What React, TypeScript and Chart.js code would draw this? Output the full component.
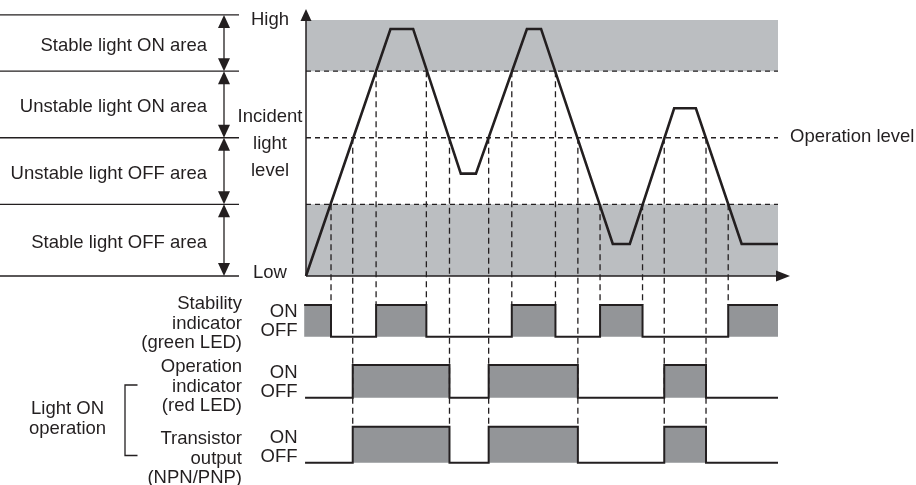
import React, { useEffect, useRef } from "react";
import { Chart, registerables } from "chart.js";

Chart.register(...registerables);

// ---- data ----
const waveTime = [0, 17.9, 22.7, 32.8, 36.0, 46.8, 49.8, 65.0, 68.6, 78.0, 82.6, 92.3, 100];
const waveLevel = [0, 96.5, 96.5, 40, 40, 96.5, 96.5, 12.5, 12.5, 65.5, 65.5, 12.5, 12.5];
const thresholds = [28, 54, 80]; // stable OFF limit, operation level, stable ON limit
const operationLevel = 54;
const bandTop = 100;
const areaEdges = [102, 80, 54, 28, 0];
const areaLabels = [
  "Stable light ON area",
  "Unstable light ON area",
  "Unstable light OFF area",
  "Stable light OFF area",
];
const crossTime = [5.3, 9.9, 14.85, 25.5, 30.4, 38.7, 43.6, 52.85, 57.6, 62.3, 71.3, 75.9, 84.75, 89.45];
const crossLevel = [28, 54, 80, 80, 54, 54, 80, 80, 54, 28, 28, 54, 54, 28];
const stabilityTime = [-0.4, 5.3, 14.85, 25.5, 43.6, 52.85, 62.3, 71.3, 89.45, 100];
const stabilityState = [1, 0, 1, 0, 1, 0, 1, 0, 1, 1];
const operationTime = [-0.2, 9.9, 30.4, 38.7, 57.6, 75.9, 84.75, 100];
const operationState = [0, 1, 0, 1, 0, 1, 0, 0];
const transistorTime = [-0.2, 9.9, 30.4, 38.7, 57.6, 75.9, 84.75, 100];
const transistorState = [0, 1, 0, 1, 0, 1, 0, 0];
const signalLabels = [
  ["Stability", "indicator", "(green LED)"],
  ["Operation", "indicator", "(red LED)"],
  ["Transistor", "output", "(NPN/PNP)"],
];
const groupLabel = ["Light ON", "operation"];
const axisLabelLevel = ["Incident", "light", "level"];

// ---- layout ----
const W = 916;
const H = 485;
const TOP = 20;
const BOTTOM = 470;
const INK = "#231f20";
const FONT = '18.5px "Liberation Sans", Arial, sans-serif';

function range(v1: number, p1: number, v2: number, p2: number) {
  const k = (v2 - v1) / (p1 - p2);
  return { min: v1 - (BOTTOM - p1) * k, max: v1 + (p1 - TOP) * k };
}

const pts = (xs: number[], ys: number[]) => xs.map((x, i) => ({ x, y: ys[i] }));

export default function App() {
  const ref = useRef<HTMLCanvasElement | null>(null);

  useEffect(() => {
    if (!ref.current) return;

    const overlay = {
      id: "overlay",
      afterDatasetsDraw(chart: any) {
        const ctx = chart.ctx as CanvasRenderingContext2D;
        const sx = chart.scales.x;
        const yL = chart.scales.yLevel;
        const yS = chart.scales.yStab;
        const yO = chart.scales.yOp;
        const yT = chart.scales.yTr;
        ctx.save();
        ctx.strokeStyle = INK;
        ctx.fillStyle = INK;

        // vertical dashed guide lines
        ctx.setLineDash([6, 4]);
        ctx.lineWidth = 1.3;
        crossTime.forEach((t, i) => {
          const px = sx.getPixelForValue(t);
          const y1 = yL.getPixelForValue(crossLevel[i]);
          const y2 = crossLevel[i] === operationLevel ? yT.getPixelForValue(1) : yS.getPixelForValue(1);
          ctx.beginPath();
          ctx.moveTo(px, y1);
          ctx.lineTo(px, y2);
          ctx.stroke();
        });
        ctx.setLineDash([]);

        // axes with arrows
        const x0 = sx.getPixelForValue(0);
        const xr = sx.getPixelForValue(100);
        const y0 = yL.getPixelForValue(0);
        const yt = yL.getPixelForValue(bandTop);
        ctx.lineWidth = 1.5;
        ctx.beginPath();
        ctx.moveTo(x0, y0);
        ctx.lineTo(x0, yt - 4);
        ctx.moveTo(x0, y0);
        ctx.lineTo(xr, y0);
        ctx.stroke();
        ctx.beginPath();
        ctx.moveTo(x0, yt - 11);
        ctx.lineTo(x0 - 5.5, yt + 1);
        ctx.lineTo(x0 + 5.5, yt + 1);
        ctx.closePath();
        ctx.fill();
        ctx.beginPath();
        ctx.moveTo(xr + 12, y0);
        ctx.lineTo(xr - 2, y0 - 5.5);
        ctx.lineTo(xr - 2, y0 + 5.5);
        ctx.closePath();
        ctx.fill();

        // left area scale
        ctx.lineWidth = 1.3;
        areaEdges.forEach((e) => {
          const y = yL.getPixelForValue(e);
          ctx.beginPath();
          ctx.moveTo(0, y);
          ctx.lineTo(239, y);
          ctx.stroke();
        });
        const ax = 224;
        for (let i = 0; i < areaEdges.length - 1; i++) {
          const ya = yL.getPixelForValue(areaEdges[i]);
          const yb = yL.getPixelForValue(areaEdges[i + 1]);
          ctx.beginPath();
          ctx.moveTo(ax, ya + 6);
          ctx.lineTo(ax, yb - 6);
          ctx.stroke();
          ctx.beginPath();
          ctx.moveTo(ax, ya);
          ctx.lineTo(ax - 6, ya + 13);
          ctx.lineTo(ax + 6, ya + 13);
          ctx.closePath();
          ctx.fill();
          ctx.beginPath();
          ctx.moveTo(ax, yb);
          ctx.lineTo(ax - 6, yb - 13);
          ctx.lineTo(ax + 6, yb - 13);
          ctx.closePath();
          ctx.fill();
        }

        // text
        ctx.font = FONT;
        ctx.textBaseline = "alphabetic";
        ctx.textAlign = "right";
        areaLabels.forEach((lab, i) => {
          const mid = (yL.getPixelForValue(areaEdges[i]) + yL.getPixelForValue(areaEdges[i + 1])) / 2;
          ctx.fillText(lab, 207, mid + 8);
        });

        ctx.textAlign = "center";
        ctx.fillText("High", 270, yt + 5);
        ctx.fillText("Low", 270, y0 + 2);
        const yOpPx = yL.getPixelForValue(operationLevel);
        axisLabelLevel.forEach((t, i) => ctx.fillText(t, 270, yOpPx - 16 + i * 27));

        ctx.textAlign = "left";
        ctx.fillText("Operation level", 790, yOpPx + 4);

        // signal labels
        const rowBase = [309, 372, 444];
        ctx.textAlign = "right";
        signalLabels.forEach((lines, r) => {
          lines.forEach((t, j) => ctx.fillText(t, 242, rowBase[r] + j * 19.5));
        });
        [yS, yO, yT].forEach((sc) => {
          const off = sc.getPixelForValue(0) - 0.3;
          ctx.fillText("ON", 297.5, off - 19.3);
          ctx.fillText("OFF", 297.5, off);
        });

        ctx.textAlign = "center";
        ctx.fillText(groupLabel[0], 67.5, 414);
        ctx.fillText(groupLabel[1], 67.5, 433.5);

        // bracket
        ctx.lineWidth = 1.3;
        ctx.beginPath();
        ctx.moveTo(137.5, 385);
        ctx.lineTo(125, 385);
        ctx.lineTo(125, 455.5);
        ctx.lineTo(137.5, 455.5);
        ctx.stroke();

        ctx.restore();
      },
    };

    const flat = (y: number) => [
      { x: 0, y },
      { x: 100, y },
    ];

    const signalDs = (times: number[], states: number[], axis: string) => ({
      data: pts(times, states),
      yAxisID: axis,
      stepped: "before" as const,
      borderColor: INK,
      borderWidth: 2,
      backgroundColor: "#939598",
      fill: { value: 0 },
      pointRadius: 0,
      order: 3,
    });

    const chart = new Chart(ref.current, {
      type: "line",
      data: {
        datasets: [
          {
            data: pts(waveTime, waveLevel),
            yAxisID: "yLevel",
            borderColor: INK,
            borderWidth: 2.6,
            pointRadius: 0,
            fill: false,
            order: 0,
          },
          ...thresholds.map((t) => ({
            data: flat(t),
            yAxisID: "yLevel",
            borderColor: INK,
            borderWidth: 1.3,
            borderDash: [5, 4],
            pointRadius: 0,
            fill: false,
            order: 5,
          })),
          {
            data: flat(bandTop),
            yAxisID: "yLevel",
            borderWidth: 0,
            borderColor: "rgba(0,0,0,0)",
            backgroundColor: "#bbbec1",
            fill: { value: thresholds[2] },
            pointRadius: 0,
            order: 10,
          },
          {
            data: flat(thresholds[0]),
            yAxisID: "yLevel",
            borderWidth: 0,
            borderColor: "rgba(0,0,0,0)",
            backgroundColor: "#bbbec1",
            fill: { value: 0 },
            pointRadius: 0,
            order: 10,
          },
          signalDs(stabilityTime, stabilityState, "yStab"),
          signalDs(operationTime, operationState, "yOp"),
          signalDs(transistorTime, transistorState, "yTr"),
        ] as any,
      },
      options: {
        animation: false,
        responsive: false,
        events: [],
        layout: {
          padding: { left: 306 - 0.5 * 4.72, right: W - 778, top: TOP, bottom: H - BOTTOM },
        },
        plugins: { legend: { display: false }, tooltip: { enabled: false }, title: { display: false } },
        scales: {
          x: { type: "linear", min: -0.5, max: 100, display: false },
          yLevel: { type: "linear", display: false, bounds: "data", ...range(0, 276, 100, 20) },
          yStab: { type: "linear", display: false, bounds: "data", ...range(0, 336.7, 1, 305) },
          yOp: { type: "linear", display: false, bounds: "data", ...range(0, 397.7, 1, 365) },
          yTr: { type: "linear", display: false, bounds: "data", ...range(0, 462.7, 1, 426.7) },
        },
      } as any,
      plugins: [overlay],
    });

    return () => chart.destroy();
  }, []);

  return (
    <div style={{ position: "fixed", left: 0, top: 0, width: W, height: H, background: "#fff" }}>
      <canvas ref={ref} width={W} height={H} style={{ width: W, height: H, display: "block" }} />
    </div>
  );
}
